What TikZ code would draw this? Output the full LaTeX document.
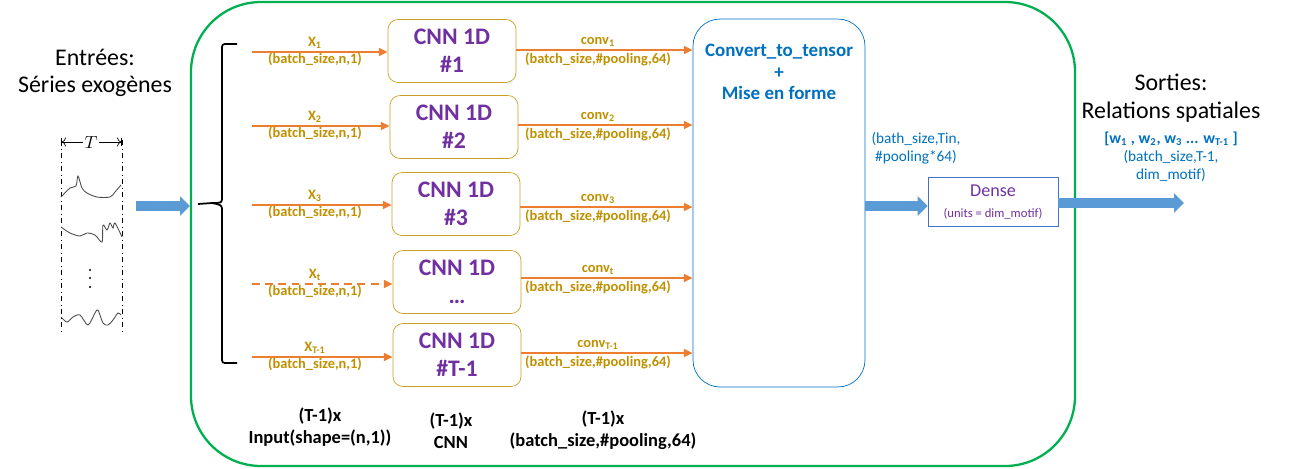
\documentclass[tikz,border=0pt]{standalone}
\usepackage{fontspec}
\setmainfont{Carlito}
\usepackage{xcolor}
\usepackage{tikz}
\usetikzlibrary{arrows.meta,positioning}
\definecolor{ogreen}{HTML}{00B050}
\definecolor{oblue}{HTML}{0070C0}
\definecolor{ogold}{HTML}{BF9000}
\definecolor{oorange}{HTML}{ED7D31}
\definecolor{opurple}{HTML}{7030A0}
\definecolor{ofat}{HTML}{5B9BD5}
\definecolor{odense}{HTML}{4472C4}

\begin{document}
\begin{tikzpicture}[x=0.02cm,y=-0.02cm,
  cnnbox/.style={draw=ogold!85,rounded corners=0.2cm,inner sep=0pt,
    minimum width=2.56cm,minimum height=1.26cm,align=center,text=opurple,
    font=\bfseries\fontsize{13.5}{15.9}\selectfont},
  lbl/.style={text=ogold,inner sep=0pt,font=\bfseries\fontsize{8.2}{9}\selectfont},
  flow/.style={oorange,line width=1.1pt,-{Triangle[length=5pt,width=4.5pt]}},
  skipflow/.style={dash pattern=on 4.5pt off 3pt},
  fat/.style={ofat,line width=0.2cm,-{Triangle[length=0.2cm,width=0.38cm]}},
  head/.style={align=center,font=\fontsize{13.6}{15.6}\selectfont},
  info/.style={text=oblue,align=center,font=\fontsize{8.7}{10.4}\selectfont},
  bottom/.style={align=center,font=\bfseries\fontsize{10.5}{12.5}\selectfont}]
  \useasboundingbox (0,0) rectangle (1290,468);

  % outer frame
  \draw[ogreen,line width=1.3pt,rounded corners=1.4cm] (191,2) rectangle (1075,466);

  % inputs: time series
  \node[head] (entrees) at (95,73) {Entrées:\\Séries exogènes};
  \draw[dash dot,thin] (61,140) -- (61,333);
  \draw[dash dot,thin] (122,140) -- (122,333);
  \node[inner sep=1pt] (tlab) at (91,142) {$T$};
  \coordinate (tl) at (61,142);
  \coordinate (tr) at (122,142);
  \draw[thin,->|] (tlab.west) -- (tl);
  \draw[thin,->|] (tlab.east) -- (tr);
  \draw[black!70,line width=0.5pt] plot[smooth] coordinates {(61,197) (70,188) (76,186) (78,176)
    (82,188) (87,193) (97,197) (110,197) (115,192) (121,185)};
  \draw[black!70,line width=0.5pt] plot[smooth] coordinates {(61,227) (70,233) (80,236) (87,233)
    (95,235) (102,242) (103,225) (107,230) (110,223) (113,228) (115,223) (122,237)};
  \draw[black!70,line width=0.5pt] plot[smooth] coordinates {(61,317) (67,322) (73,317) (80,315)
    (88,325) (95,313) (98,310) (103,323) (108,325) (113,320) (118,313) (121,315)};
  \foreach \d in {270,278,287}
    \fill (90,\d) circle (1.1);

  \coordinate (tsout) at (136,206);
  \coordinate (bracein) at (190,206);
  \draw[fat] (tsout) -- (bracein);

  % brace
  \draw[line width=1pt] (237,44) -- (228,44) .. controls (222,44) .. (222,50) -- (222,197)
    .. controls (222,203) .. (212,203) -- (198,204);
  \draw[line width=1pt] (212,203) .. controls (222,205) .. (222,211) -- (222,357)
    .. controls (222,363) .. (228,363) -- (237,363);

  % tensor block
  \node[draw=oblue,rounded corners=0.54cm,inner sep=0pt,minimum width=3.44cm,
    minimum height=7.36cm] (tensor) at (779,203) {};
  \node[text=oblue,align=center,font=\bfseries\fontsize{10.8}{12.3}\selectfont]
    (tensortxt) at (779,72) {Convert\_to\_tensor\\+\\Mise en forme};

  % rows: {i}/{box x}/{box y}/{in y}/{out y}/{sub}/{num}/{style}
  \foreach \i/\xb/\yb/\yi/\yo/\sub/\num/\st in {%
    1/452/51/52/50/1/\#1/solid,
    2/454/127/126/125/2/\#2/solid,
    3/456/204/205/207/3/\#3/solid,
    4/457/282/284/278/t/{\ldots}/skipflow,
    5/457/355/357/353/T-1/\#T-1/solid}{
      \node[cnnbox] (cnn\i) at (\xb,\yb) {CNN 1D\\\num};
      \coordinate (in\i) at (252,\yi);
      \coordinate (co\i) at (600,\yo);
      \draw[flow,\st] (in\i) -- (cnn\i.west |- in\i);
      \draw[flow] (cnn\i.east |- co\i) -- (tensor.west |- co\i);
      \node[lbl] (xl\i) at (315,\yi-9) {X\textsubscript{\sub}};
      \node[lbl] (xb\i) at (315,\yi+7) {(batch\_size,n,1)};
      \node[lbl] (cl\i) at (598,\yo-8) {conv\textsubscript{\sub}};
      \node[lbl] (cb\i) at (598,\yo+9) {(batch\_size,\#pooling,64)};
  }

  % dense and outputs
  \node[info] (tinfo) at (916,148) {(bath\_size,Tin,\\\#pooling*64)};
  \node[draw=odense,inner sep=0pt,minimum width=2.6cm,minimum height=0.98cm,
    align=center,text=opurple] (dense) at (993,202)
    {{\fontsize{10.3}{12}\selectfont Dense}\\{\fontsize{7.2}{9}\selectfont (units = dim\_motif)}};
  \coordinate (fatmid) at (900,206);
  \draw[fat] (tensor.east |- fatmid) -- (dense.west |- fatmid);
  \coordinate (sortie) at (1184,203);
  \draw[fat] (dense.east |- sortie) -- (sortie);

  \node[head] (sorties) at (1171,98) {Sorties:\\Relations spatiales};
  \node[info,font=\bfseries\fontsize{9}{10}\selectfont] (wlist) at (1171,139)
    {[w\textsubscript{1} , w\textsubscript{2}, w\textsubscript{3} ... w\textsubscript{T-1} ]};
  \node[info] (oshape) at (1171,166) {(batch\_size,T-1,\\dim\_motif)};

  % bottom notes
  \node[bottom] (b1) at (320,427) {(T-1)x\\Input(shape=(n,1))};
  \node[bottom] (b2) at (451,431) {(T-1)x\\CNN};
  \node[bottom] (b3) at (603,430) {(T-1)x\\(batch\_size,\#pooling,64)};
\end{tikzpicture}
\end{document}
